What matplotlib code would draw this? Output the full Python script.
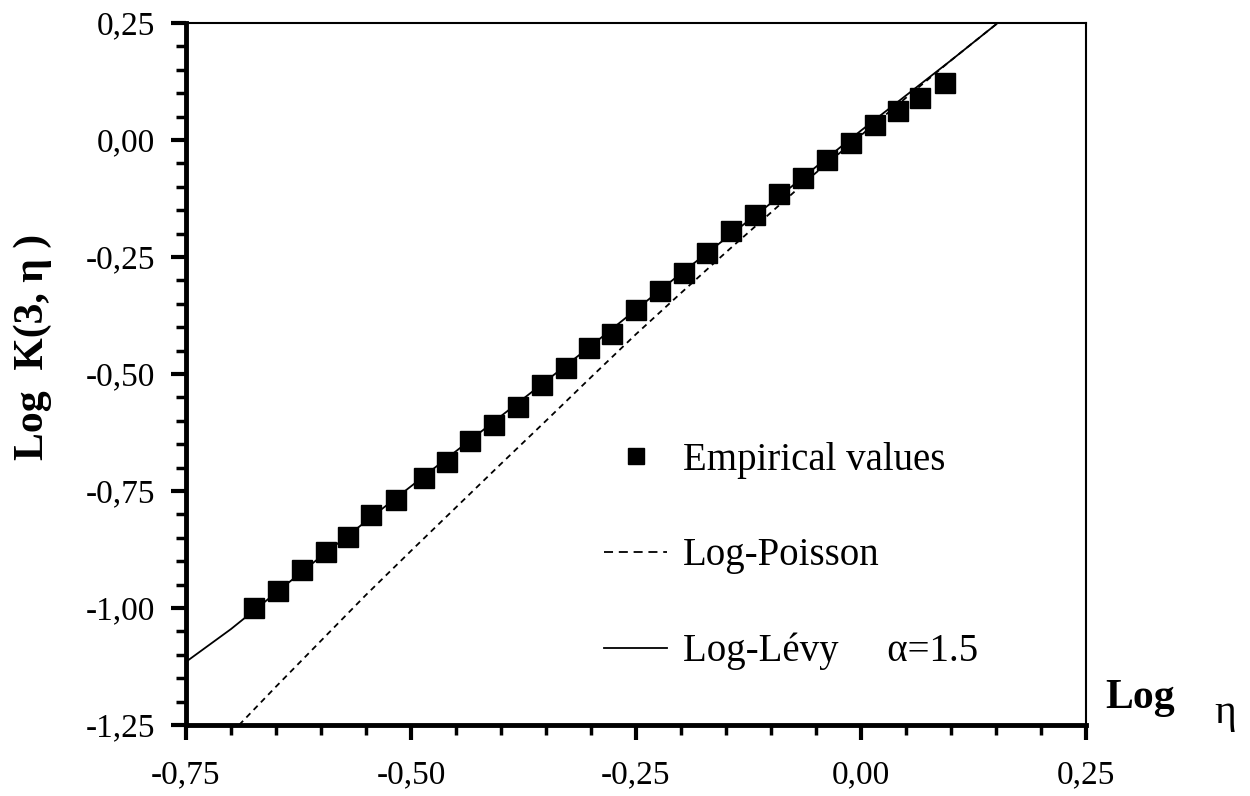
import matplotlib
matplotlib.use("Agg")
import matplotlib.pyplot as plt
from matplotlib.ticker import MultipleLocator, FuncFormatter
from matplotlib.lines import Line2D

# Empirical values
log_eta = [-0.674, -0.648, -0.621, -0.595, -0.570, -0.544, -0.517, -0.486,
           -0.460, -0.434, -0.408, -0.381, -0.354, -0.328, -0.302, -0.277,
           -0.250, -0.223, -0.197, -0.171, -0.144, -0.118, -0.091, -0.064,
           -0.038, -0.011, 0.015, 0.041, 0.066, 0.093]
log_k = [-1.000, -0.964, -0.919, -0.880, -0.848, -0.801, -0.769, -0.722,
         -0.688, -0.643, -0.609, -0.571, -0.524, -0.487, -0.444, -0.415,
         -0.363, -0.322, -0.284, -0.242, -0.195, -0.160, -0.116, -0.082,
         -0.043, -0.006, 0.031, 0.061, 0.089, 0.121]

# Log-Levy alpha=1.5 curve
levy_x = [-0.75, -0.70, -0.60, -0.50, -0.40, -0.30, -0.20, -0.10, 0.00, 0.10, 0.152]
levy_y = [-1.115, -1.045, -0.89, -0.74, -0.59, -0.44, -0.285, -0.135, 0.02, 0.17, 0.25]

# Log-Poisson curve
poisson_x = [-0.691, -0.65, -0.60, -0.55, -0.50, -0.45, -0.40, -0.35, -0.30,
             -0.25, -0.20, -0.15, -0.10, -0.05, 0.00, 0.05, 0.10, 0.152]
poisson_y = [-1.25, -1.168, -1.07, -0.972, -0.878, -0.785, -0.692, -0.600, -0.507,
             -0.415, -0.327, -0.24, -0.155, -0.07, 0.01, 0.09, 0.17, 0.25]

serif = ['Liberation Serif', 'DejaVu Serif']
plt.rcParams['font.family'] = serif

fig = plt.figure(figsize=(12.5, 7.96), dpi=100)
ax = fig.add_axes([0.1488, 0.0892, 0.72, 0.882])

dash = (0, (3.2, 2.6))
ax.plot(levy_x, levy_y, color='black', linewidth=1.3, zorder=2)
ax.plot(poisson_x, poisson_y, color='black', linewidth=1.3, linestyle=dash, zorder=2)
ax.plot(log_eta, log_k, linestyle='none', marker='s', markersize=14.5,
        color='black', zorder=3)

ax.set_xlim(-0.75, 0.25)
ax.set_ylim(-1.25, 0.25)

fmt = FuncFormatter(lambda v, p: f"{v:.2f}".replace('.', ','))
for axis in (ax.xaxis, ax.yaxis):
    axis.set_major_locator(MultipleLocator(0.25))
    axis.set_minor_locator(MultipleLocator(0.05))
    axis.set_major_formatter(fmt)

ax.tick_params(which='major', direction='out', length=11, width=3, labelsize=24)
ax.tick_params(which='minor', direction='out', length=7, width=2.5)
ax.tick_params(axis='y', which='major', pad=11)
ax.tick_params(axis='x', which='major', pad=14)

ax.spines['left'].set_linewidth(3.5)
ax.spines['bottom'].set_linewidth(3.5)
ax.spines['top'].set_linewidth(1.5)
ax.spines['right'].set_linewidth(1.5)

# Axis labels
fig.text(33 / 1250, 1 - 347 / 796, 'Log  K(3, η )', rotation=90, ha='center',
         va='center', fontsize=30, fontweight='bold')
ax.text(1.021, 0.038, 'Log', transform=ax.transAxes, ha='left', va='center',
        fontsize=30, fontweight='bold')
ax.text(1.143, 0.017, 'η', transform=ax.transAxes, ha='left', va='center',
        fontsize=30)

handles = [
    Line2D([], [], linestyle='none', marker='s', markersize=11, color='black'),
    Line2D([], [], color='black', linewidth=1.3, linestyle=(0, (5, 3.2))),
    Line2D([], [], color='black', linewidth=1.3),
]
labels = ['Empirical values', 'Log-Poisson', 'Log-Lévy     α=1.5']
ax.legend(handles, labels, loc='upper left', bbox_to_anchor=(604 / 1250, 1 - 442 / 796),
          bbox_transform=fig.transFigure, frameon=False, fontsize=28,
          handlelength=1.62, handletextpad=0.4, labelspacing=1.5,
          borderpad=0, borderaxespad=0)

fig.savefig('out.png', dpi=100)
